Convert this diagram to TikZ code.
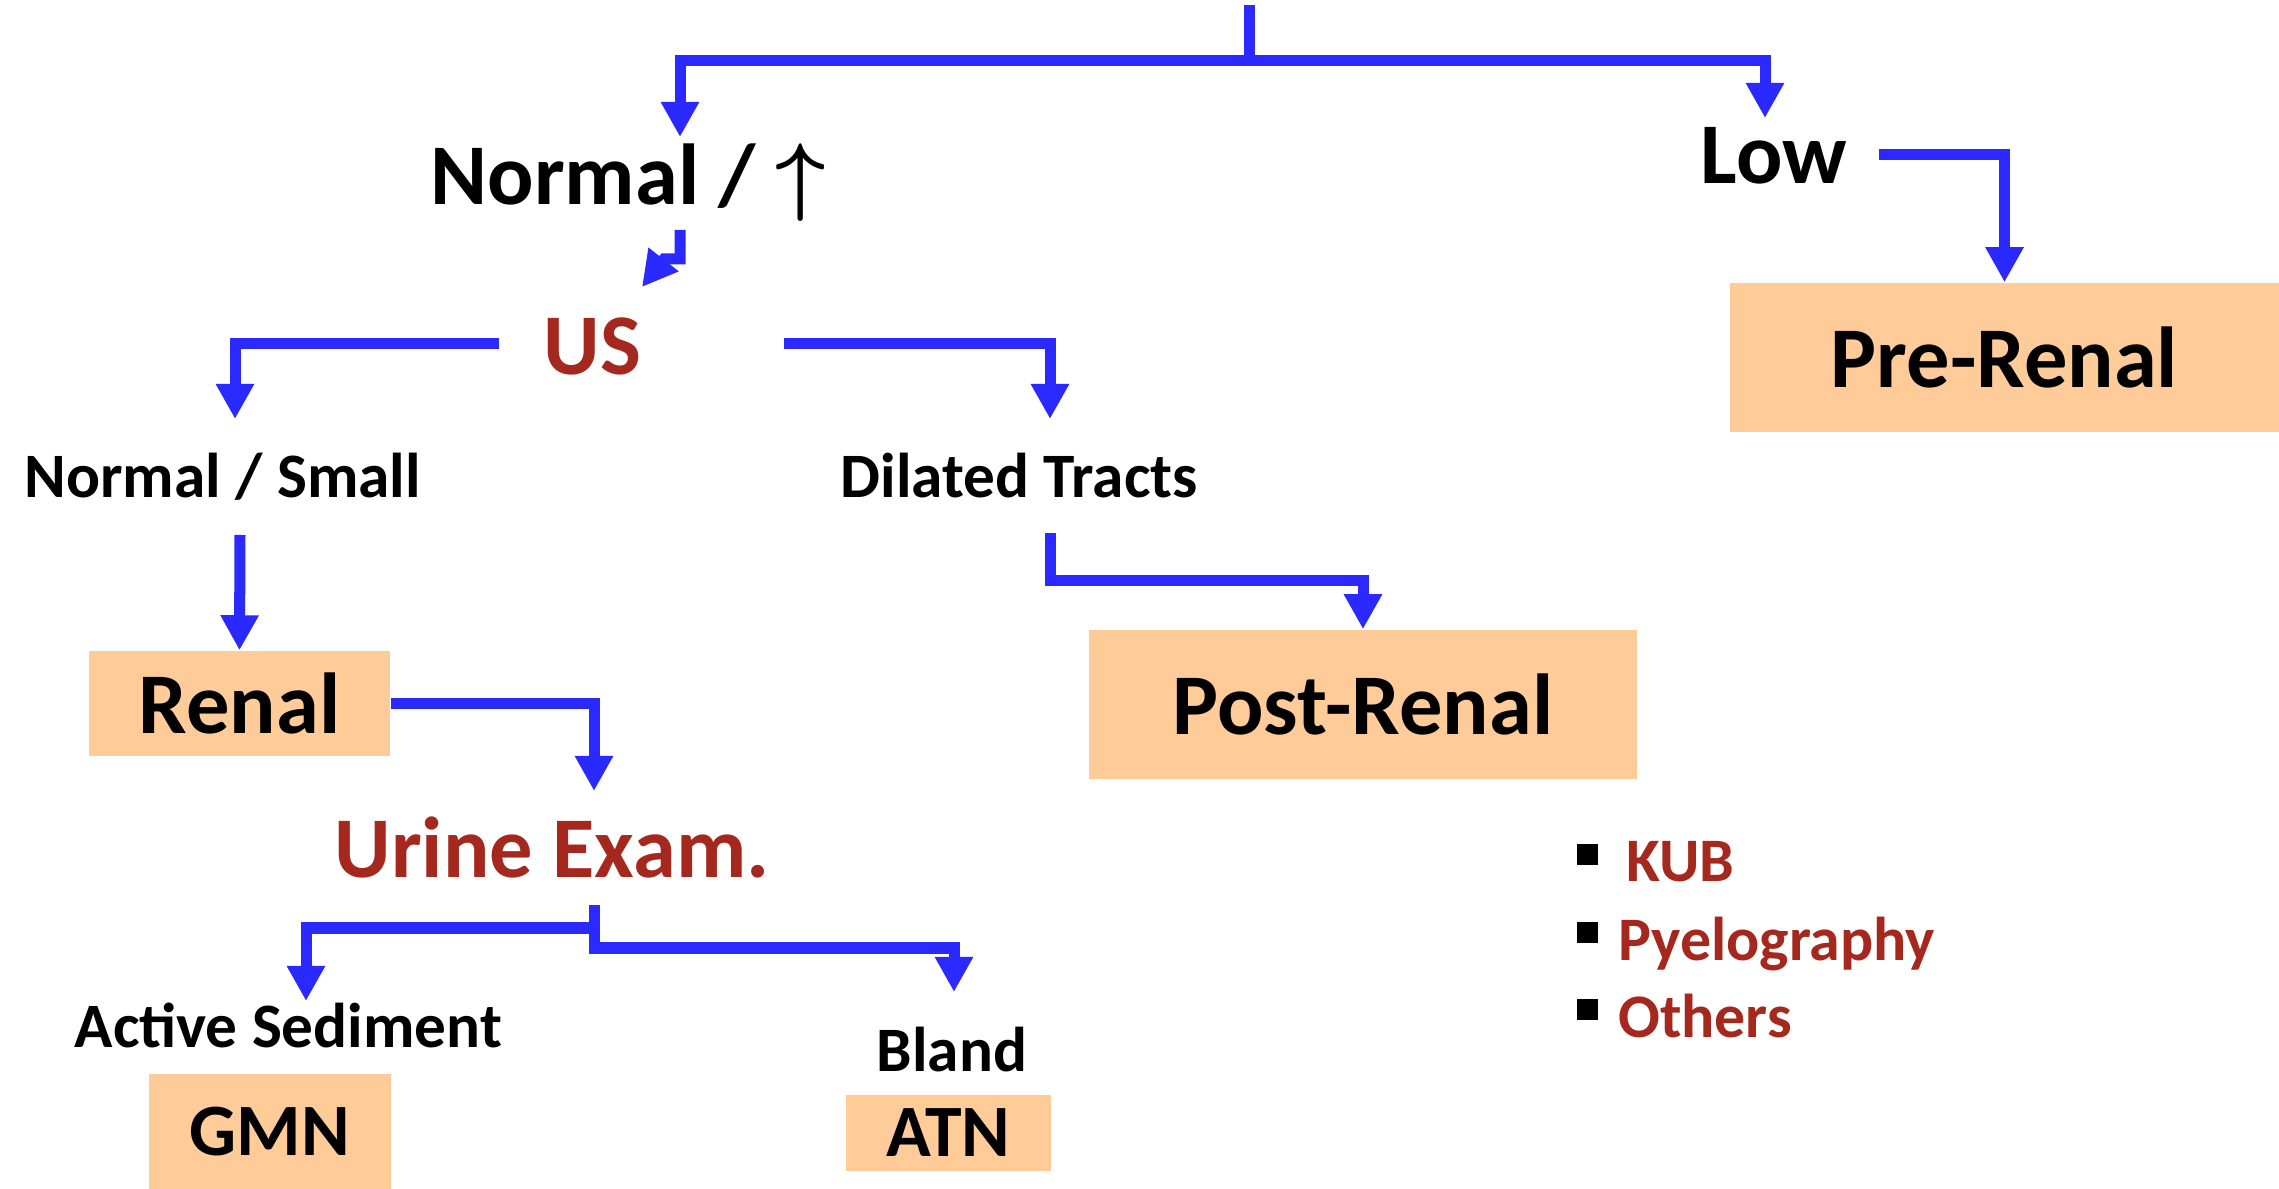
\documentclass[tikz,border=0pt]{standalone}
\usepackage{fontspec}
\setmainfont{Carlito}
\usetikzlibrary{arrows.meta}
\definecolor{fBlue}{HTML}{2A2AFF}
\definecolor{fRed}{HTML}{A5281E}
\definecolor{fPeach}{HTML}{FFCC99}
\newcommand{\sqbul}{\textcolor{black}{\rule[0.28em]{0.34em}{0.34em}}\hspace{0.33em}}

\begin{document}
\begin{tikzpicture}[x=0.01cm, y=-0.01cm,
  flow/.style={draw=fBlue, line width=1.1mm, -{Triangle[length=3.5mm, width=3.6mm]}},
  trunk/.style={draw=fBlue, line width=1.1mm},
  bigtxt/.style={inner sep=0pt, anchor=base west, font=\fontsize{24.6}{29}\selectfont\bfseries},
  midtxt/.style={inner sep=0pt, anchor=base west, font=\fontsize{18}{21}\selectfont\bfseries},
  itemtxt/.style={inner sep=0pt, anchor=base west, text=fRed, font=\fontsize{17.6}{20}\selectfont\bfseries},
  result/.style={fill=fPeach, inner sep=0pt, font=\fontsize{24.6}{29}\selectfont\bfseries},
]
  \useasboundingbox (0,0) rectangle (2279,1189);

  % first level
  \node[bigtxt] (nrm) at (430,205) {Normal / \mbox{\boldmath$\uparrow$}};
  \node[bigtxt] (low) at (1700,184) {Low};
  \node[result, minimum width=5.49cm, minimum height=1.49cm] (pre) at (2004.5,357.5) {Pre-Renal};

  % ultrasound
  \node[bigtxt, text=fRed] (us) at (543,375) {US};
  \node[midtxt] (nsm) at (24,498) {Normal / Small};
  \node[midtxt] (dil) at (840,498) {Dilated Tracts};
  \node[result, minimum width=3.01cm, minimum height=1.05cm] (renal) at (239.5,703.5) {Renal};
  \node[result, minimum width=5.48cm, minimum height=1.49cm] (post) at (1363,704.5) {Post-Renal};

  % urine
  \node[bigtxt, text=fRed] (ue) at (334,878) {Urine Exam.};
  \node[midtxt] (act) at (74,1047) {Active Sediment};
  \node[midtxt] (bland) at (876,1071) {Bland};
  \node[result, font=\fontsize{21}{25}\selectfont\bfseries,
        minimum width=2.42cm, minimum height=1.15cm] (gmn) at (270,1131.5) {GMN};
  \node[result, font=\fontsize{21}{25}\selectfont\bfseries,
        minimum width=2.05cm, minimum height=0.76cm] (atn) at (948.5,1133) {ATN};

  % imaging list
  \node[itemtxt] (kub) at (1576,882) {\sqbul\hspace{0.13em}KUB};
  \node[itemtxt] (pyel) at (1576,960) {\sqbul Pyelography};
  \node[itemtxt] (oth) at (1576,1037) {\sqbul Others};

  % connector ends
  \coordinate (root) at (1249,5);
  \coordinate (split) at (1249,61);
  \coordinate (nrmin) at (680,137);
  \coordinate (lowin) at (1765,118);
  \coordinate (nrmout) at (680,230);
  \coordinate (usl) at (499,344);
  \coordinate (usr) at (784,344);
  \coordinate (nsmin) at (235,419);
  \coordinate (dilin) at (1050,419);
  \coordinate (nsmout) at (240,535);
  \coordinate (dilout) at (1050,533);
  \coordinate (lowout) at (1879,155);
  \coordinate (uein) at (594,791);
  \coordinate (ueout) at (594,905);
  \coordinate (uemid) at (594,928);
  \coordinate (actin) at (306,1001);
  \coordinate (blandin) at (954,992);

  \draw[trunk] (root) -- (split);
  \draw[flow] (split) -| (nrmin);
  \draw[flow] (split) -| (lowin);
  \draw[flow] (nrmout) -- ++(0,29) -- ++(-16,0) -- ++(-22,28);
  \draw[flow] (lowout) -| (pre.north);
  \draw[flow] (usl) -| (nsmin);
  \draw[flow] (usr) -| (dilin);
  \draw[flow] (nsmout) -- (renal.north);
  \draw[flow] (dilout) -- ++(0,48) -| (post.north);
  \draw[flow] (renal.east) -| (uein);
  \draw[flow] (uemid) -| (actin);
  \draw[flow] (ueout) -- ++(0,43) -| (blandin);
\end{tikzpicture}
\end{document}
